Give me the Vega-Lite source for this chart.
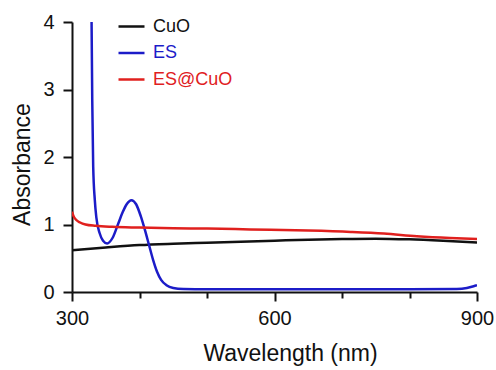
{
  "$schema": "https://vega.github.io/schema/vega-lite/v6.json",
  "width": 405,
  "height": 270,
  "autosize": {"type": "none"},
  "padding": {"left": 72, "top": 22, "right": 19, "bottom": 78},
  "background": "white",
  "config": {
    "view": {"stroke": null},
    "font": "Liberation Sans",
    "axis": {
      "grid": false,
      "domainColor": "#111111",
      "domainWidth": 2,
      "tickColor": "#111111",
      "tickWidth": 2,
      "labelFont": "Liberation Sans",
      "labelFontSize": 20,
      "labelColor": "#111111",
      "labelFlush": false,
      "labelOverlap": false,
      "titleFont": "Liberation Sans",
      "titleFontSize": 23,
      "titleFontWeight": "normal",
      "titleColor": "#111111"
    }
  },
  "data": {
    "values": [
      {"series": "CuO", "wavelength": 300, "absorbance": 0.62},
      {"series": "CuO", "wavelength": 350, "absorbance": 0.66},
      {"series": "CuO", "wavelength": 400, "absorbance": 0.695},
      {"series": "CuO", "wavelength": 450, "absorbance": 0.715},
      {"series": "CuO", "wavelength": 500, "absorbance": 0.73},
      {"series": "CuO", "wavelength": 550, "absorbance": 0.745},
      {"series": "CuO", "wavelength": 600, "absorbance": 0.76},
      {"series": "CuO", "wavelength": 650, "absorbance": 0.775},
      {"series": "CuO", "wavelength": 700, "absorbance": 0.785},
      {"series": "CuO", "wavelength": 750, "absorbance": 0.79},
      {"series": "CuO", "wavelength": 800, "absorbance": 0.78},
      {"series": "CuO", "wavelength": 850, "absorbance": 0.76},
      {"series": "CuO", "wavelength": 900, "absorbance": 0.735},

      {"series": "ES", "wavelength": 329, "absorbance": 4.0},
      {"series": "ES", "wavelength": 330, "absorbance": 2.84},
      {"series": "ES", "wavelength": 331.4, "absorbance": 1.86},
      {"series": "ES", "wavelength": 333.8, "absorbance": 1.36},
      {"series": "ES", "wavelength": 336, "absorbance": 1.11},
      {"series": "ES", "wavelength": 341, "absorbance": 0.87},
      {"series": "ES", "wavelength": 346, "absorbance": 0.76},
      {"series": "ES", "wavelength": 352, "absorbance": 0.72},
      {"series": "ES", "wavelength": 360, "absorbance": 0.8},
      {"series": "ES", "wavelength": 368, "absorbance": 1.0},
      {"series": "ES", "wavelength": 375, "absorbance": 1.18},
      {"series": "ES", "wavelength": 381, "absorbance": 1.3},
      {"series": "ES", "wavelength": 388, "absorbance": 1.36},
      {"series": "ES", "wavelength": 395, "absorbance": 1.3},
      {"series": "ES", "wavelength": 402, "absorbance": 1.12},
      {"series": "ES", "wavelength": 408, "absorbance": 0.92},
      {"series": "ES", "wavelength": 414, "absorbance": 0.7},
      {"series": "ES", "wavelength": 420, "absorbance": 0.48},
      {"series": "ES", "wavelength": 426, "absorbance": 0.3},
      {"series": "ES", "wavelength": 432, "absorbance": 0.18},
      {"series": "ES", "wavelength": 440, "absorbance": 0.1},
      {"series": "ES", "wavelength": 450, "absorbance": 0.06},
      {"series": "ES", "wavelength": 465, "absorbance": 0.045},
      {"series": "ES", "wavelength": 500, "absorbance": 0.04},
      {"series": "ES", "wavelength": 600, "absorbance": 0.04},
      {"series": "ES", "wavelength": 700, "absorbance": 0.04},
      {"series": "ES", "wavelength": 800, "absorbance": 0.04},
      {"series": "ES", "wavelength": 870, "absorbance": 0.045},
      {"series": "ES", "wavelength": 885, "absorbance": 0.06},
      {"series": "ES", "wavelength": 895, "absorbance": 0.085},
      {"series": "ES", "wavelength": 900, "absorbance": 0.1},

      {"series": "ES@CuO", "wavelength": 300, "absorbance": 1.19},
      {"series": "ES@CuO", "wavelength": 302, "absorbance": 1.13},
      {"series": "ES@CuO", "wavelength": 306, "absorbance": 1.07},
      {"series": "ES@CuO", "wavelength": 312, "absorbance": 1.03},
      {"series": "ES@CuO", "wavelength": 320, "absorbance": 1.0},
      {"series": "ES@CuO", "wavelength": 335, "absorbance": 0.98},
      {"series": "ES@CuO", "wavelength": 360, "absorbance": 0.965},
      {"series": "ES@CuO", "wavelength": 400, "absorbance": 0.955},
      {"series": "ES@CuO", "wavelength": 450, "absorbance": 0.945},
      {"series": "ES@CuO", "wavelength": 500, "absorbance": 0.94},
      {"series": "ES@CuO", "wavelength": 564, "absorbance": 0.927},
      {"series": "ES@CuO", "wavelength": 650, "absorbance": 0.91},
      {"series": "ES@CuO", "wavelength": 713, "absorbance": 0.89},
      {"series": "ES@CuO", "wavelength": 762, "absorbance": 0.866},
      {"series": "ES@CuO", "wavelength": 811, "absorbance": 0.826},
      {"series": "ES@CuO", "wavelength": 860, "absorbance": 0.8},
      {"series": "ES@CuO", "wavelength": 900, "absorbance": 0.787}
    ]
  },
  "mark": {"type": "line", "interpolate": "monotone", "strokeWidth": 2.5, "clip": true},
  "encoding": {
    "x": {
      "field": "wavelength",
      "type": "quantitative",
      "scale": {"domain": [300, 900], "nice": false, "zero": false},
      "axis": {
        "title": "Wavelength (nm)",
        "values": [300, 400, 500, 600, 700, 800, 900],
        "labelExpr": "datum.value % 300 === 0 ? datum.label : ''",
        "tickSize": {"condition": {"test": "datum.value % 300 === 0", "value": 9}, "value": 6},
        "labelPadding": 7,
        "titleX": 218,
        "titleY": 61,
        "titleBaseline": "middle",
        "titleAlign": "center"
      }
    },
    "y": {
      "field": "absorbance",
      "type": "quantitative",
      "scale": {"domain": [0, 4], "nice": false},
      "axis": {
        "title": "Absorbance",
        "values": [0, 1, 2, 3, 4],
        "tickSize": 9,
        "labelPadding": 9,
        "titleX": -50,
        "titleY": 142,
        "titleBaseline": "middle",
        "titleAlign": "center"
      }
    },
    "color": {
      "field": "series",
      "type": "nominal",
      "scale": {"domain": ["CuO", "ES", "ES@CuO"], "range": ["#111111", "#1c1cc8", "#e0201e"]},
      "legend": {
        "orient": "none",
        "legendX": 45,
        "legendY": -10,
        "title": null,
        "padding": 0,
        "symbolType": "stroke",
        "symbolSize": 676,
        "symbolStrokeWidth": 2.5,
        "labelFont": "Liberation Sans",
        "labelFontSize": 18,
        "labelOffset": 7,
        "rowPadding": 2.5,
        "encode": {
          "labels": {"update": {"fill": {"scale": "color", "field": "value"}}}
        }
      }
    }
  }
}
